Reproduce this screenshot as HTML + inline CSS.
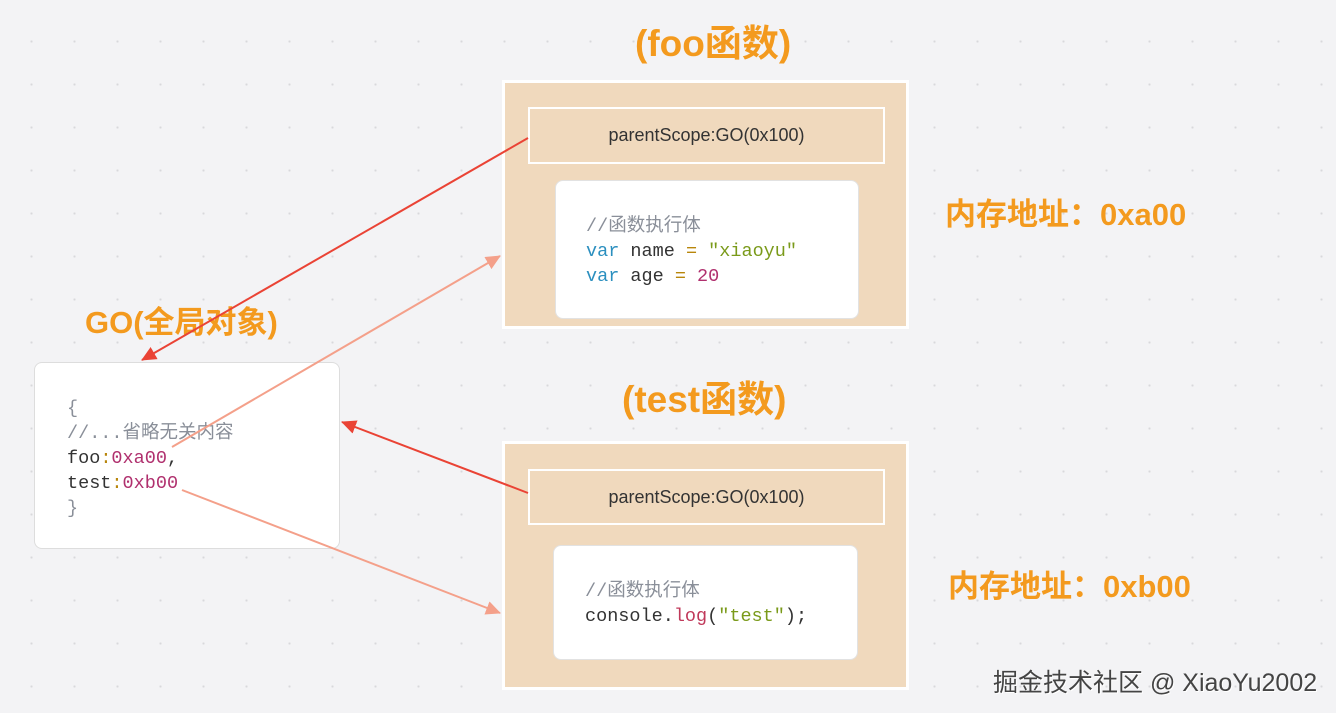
<!DOCTYPE html>
<html><head><meta charset="utf-8"><style>
body{margin:0;width:1336px;height:713px;overflow:hidden;background-color:#f3f3f5;background-image:radial-gradient(#d8d8dc 1px,transparent 1.2px);background-size:43px 43px;background-position:10px 20px;font-family:"Liberation Sans","Noto Sans CJK SC",sans-serif;position:relative}
.a{position:absolute}
.outer{background:#f0d9bd;border:3px solid #fff;box-sizing:border-box}
.ps{background:#f0d9bd;border:2px solid #fff;box-sizing:border-box;display:flex;align-items:center;justify-content:center;font-size:18px;color:#333}
.card{background:#fff;border-radius:8px;box-sizing:border-box;border:1px solid #e2e2e2}
.code{font-family:"Liberation Mono","Noto Sans CJK SC",monospace;font-size:18.5px;line-height:25px;color:#333;white-space:pre}
.t{color:#f39a1e;font-weight:bold;font-family:"Liberation Sans","Noto Sans CJK SC",sans-serif}
.cm{color:#8a8f99}.kw{color:#2b8fbf}.st{color:#7a9a1a}.nu{color:#b0306e}.op{color:#b8860b}
</style></head><body>
<div class="a t" style="left:635px;top:13px;font-size:37px">(foo函数)</div>
<div class="a t" style="left:622px;top:369px;font-size:37px">(test函数)</div>
<div class="a t" style="left:85px;top:297px;font-size:31px">GO(全局对象)</div>
<div class="a t" style="left:945px;top:189px;font-size:31px">内存地址：0xa00</div>
<div class="a t" style="left:948px;top:561px;font-size:31px">内存地址：0xb00</div>

<div class="a outer" style="left:502px;top:80px;width:407px;height:249px"></div>
<div class="a ps" style="left:528px;top:107px;width:357px;height:57px">parentScope:GO(0x100)</div>
<div class="a card" style="left:555px;top:180px;width:304px;height:139px"></div>
<div class="a code" style="left:586px;top:214px"><span class="cm">//函数执行体</span>
<span class="kw">var</span> name <span class="op">=</span> <span class="st">"xiaoyu"</span>
<span class="kw">var</span> age <span class="op">=</span> <span class="nu">20</span></div>

<div class="a outer" style="left:502px;top:441px;width:407px;height:249px"></div>
<div class="a ps" style="left:528px;top:469px;width:357px;height:56px">parentScope:GO(0x100)</div>
<div class="a card" style="left:553px;top:545px;width:305px;height:115px"></div>
<div class="a code" style="left:585px;top:579px"><span class="cm">//函数执行体</span>
console.<span style="color:#c0395a">log</span>(<span class="st">"test"</span>);</div>

<div class="a card" style="left:34px;top:362px;width:306px;height:187px;border-color:#ddd"></div>
<div class="a code" style="left:67px;top:396px"><span class="cm">{</span>
<span class="cm">//...省略无关内容</span>
foo<span class="op">:</span><span class="nu">0xa00</span>,
test<span class="op">:</span><span class="nu">0xb00</span>
<span class="cm">}</span></div>

<div class="a" style="left:993px;top:663px;font-size:25px;color:#444;text-shadow:1px 1px 0 #fff">掘金技术社区 @ XiaoYu2002</div>

<svg class="a" style="left:0;top:0" width="1336" height="713">
<defs>
<marker id="r" markerWidth="16" markerHeight="16" refX="14" refY="7" orient="auto" markerUnits="userSpaceOnUse"><path d="M0,0L15,7L0,14z" fill="#ea4335"/></marker>
<marker id="s" markerWidth="16" markerHeight="16" refX="14" refY="7" orient="auto" markerUnits="userSpaceOnUse"><path d="M0,0L15,7L0,14z" fill="#f4a08a"/></marker>
</defs>
<line x1="528" y1="138" x2="142" y2="360" stroke="#ea4335" stroke-width="2" marker-end="url(#r)"/>
<line x1="528" y1="493" x2="342" y2="422" stroke="#ea4335" stroke-width="2" marker-end="url(#r)"/>
<line x1="172" y1="447" x2="500" y2="256" stroke="#f4a08a" stroke-width="2" marker-end="url(#s)"/>
<line x1="182" y1="490" x2="500" y2="613" stroke="#f4a08a" stroke-width="2" marker-end="url(#s)"/>
</svg>
</body></html>
